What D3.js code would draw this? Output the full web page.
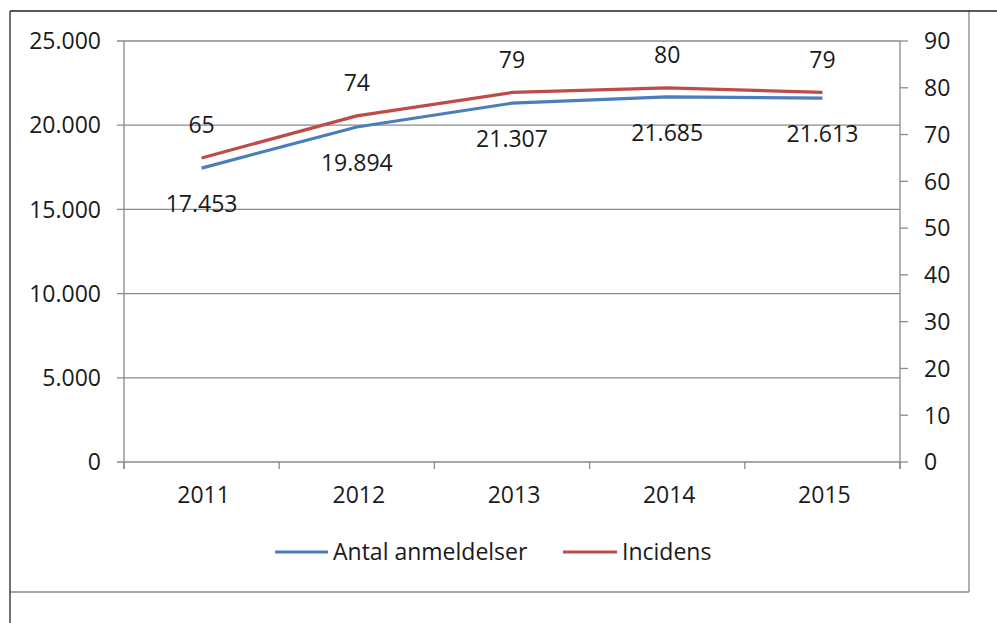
<!DOCTYPE html>
<html><head><meta charset="utf-8">
<script src="https://cdn.jsdelivr.net/npm/d3@7"></script>
<style>body{margin:0;background:#fff}svg{display:block}text{font-family:"Open Sans",sans-serif;fill:#1a1a1a}</style>
</head><body><svg id="c" width="997" height="623"></svg>
<script>
const years = ["2011","2012","2013","2014","2015"];
const anmeldelser = [17453, 19894, 21307, 21685, 21613];
const incidens = [65, 74, 79, 80, 79];
const leftTicks = [0, 5000, 10000, 15000, 20000, 25000];
const rightTicks = [0,10,20,30,40,50,60,70,80,90];
const seriesNames = ["Antal anmeldelser", "Incidens"];
const colors = ["#4A7EBB", "#BE4B48"];

const svg = d3.select("#c");
const L = 124, R = 900, T = 41, B = 462;
const fs = 23;
const fmt = v => d3.format(",")(v).replace(/,/g, ".");

// frame
svg.append("line").attr("x1",10).attr("x2",969).attr("y1",592).attr("y2",592).attr("stroke","#888").attr("stroke-width",1.3);
svg.append("line").attr("x1",969).attr("x2",969).attr("y1",11).attr("y2",592).attr("stroke","#888").attr("stroke-width",1.3);
svg.append("line").attr("x1",10).attr("x2",997).attr("y1",11).attr("y2",11).attr("stroke","#222").attr("stroke-width",1.3);
svg.append("line").attr("x1",10).attr("x2",10).attr("y1",11).attr("y2",623).attr("stroke","#222").attr("stroke-width",1.3);

const x = d3.scaleBand().domain(years).range([L, R]);
const yL = d3.scaleLinear().domain([0, 25000]).range([B, T]);
const yR = d3.scaleLinear().domain([0, 90]).range([B, T]);
const gray = "#8a8a8a";

svg.append("g").selectAll("line").data(leftTicks).join("line")
  .attr("x1", L - 7).attr("x2", R).attr("y1", d => yL(d)).attr("y2", d => yL(d))
  .attr("stroke", gray).attr("stroke-width", 1.3);
svg.append("line").attr("x1", L).attr("x2", L).attr("y1", T).attr("y2", B + 7).attr("stroke", gray).attr("stroke-width", 1.3);
svg.append("line").attr("x1", R).attr("x2", R).attr("y1", T).attr("y2", B + 7).attr("stroke", gray).attr("stroke-width", 1.3);
svg.append("g").selectAll("line").data(rightTicks).join("line")
  .attr("x1", R).attr("x2", R + 8).attr("y1", d => yR(d)).attr("y2", d => yR(d))
  .attr("stroke", gray).attr("stroke-width", 1.3);
const bounds = years.map(y => x(y)).concat([R]);
svg.append("g").selectAll("line").data(bounds).join("line")
  .attr("x1", d => d).attr("x2", d => d).attr("y1", B).attr("y2", B + 7)
  .attr("stroke", gray).attr("stroke-width", 1.3);

svg.append("g").selectAll("text").data(leftTicks).join("text")
  .attr("x", 101).attr("y", d => yL(d)).attr("dy", "0.36em").attr("text-anchor", "end")
  .attr("font-size", fs).text(d => fmt(d));
svg.append("g").selectAll("text").data(rightTicks).join("text")
  .attr("x", 924).attr("y", d => yR(d)).attr("dy", "0.36em").attr("text-anchor", "start")
  .attr("font-size", fs).text(d => d);
svg.append("g").selectAll("text").data(years).join("text")
  .attr("x", d => x(d) + x.bandwidth() / 2 + 2).attr("y", 495).attr("dy", "0.36em").attr("text-anchor", "middle")
  .attr("font-size", fs).text(d => d);

const cx = d => x(d) + x.bandwidth() / 2;
const lineL = d3.line().x((d, i) => cx(years[i])).y(d => yL(d));
const lineR = d3.line().x((d, i) => cx(years[i])).y(d => yR(d));
svg.append("path").attr("d", lineL(anmeldelser)).attr("fill", "none").attr("stroke", colors[0]).attr("stroke-width", 3.2);
svg.append("path").attr("d", lineR(incidens)).attr("fill", "none").attr("stroke", colors[1]).attr("stroke-width", 3.2);

svg.append("g").selectAll("text").data(anmeldelser).join("text")
  .attr("x", (d, i) => cx(years[i])).attr("y", d => yL(d) + 36).attr("dy", "0.36em").attr("text-anchor", "middle")
  .attr("font-size", fs).text(d => fmt(d));
svg.append("g").selectAll("text").data(incidens).join("text")
  .attr("x", (d, i) => cx(years[i])).attr("y", d => yR(d) - 33).attr("dy", "0.36em").attr("text-anchor", "middle")
  .attr("font-size", fs).text(d => d);

const leg = [{x1: 275, x2: 328, tx: 333}, {x1: 563, x2: 617, tx: 622}];
seriesNames.forEach((n, i) => {
  svg.append("line").attr("x1", leg[i].x1).attr("x2", leg[i].x2).attr("y1", 552).attr("y2", 552)
    .attr("stroke", colors[i]).attr("stroke-width", 3.2);
  svg.append("text").attr("x", leg[i].tx).attr("y", 552).attr("dy", "0.36em").attr("font-size", fs).text(n);
});
</script></body></html>
